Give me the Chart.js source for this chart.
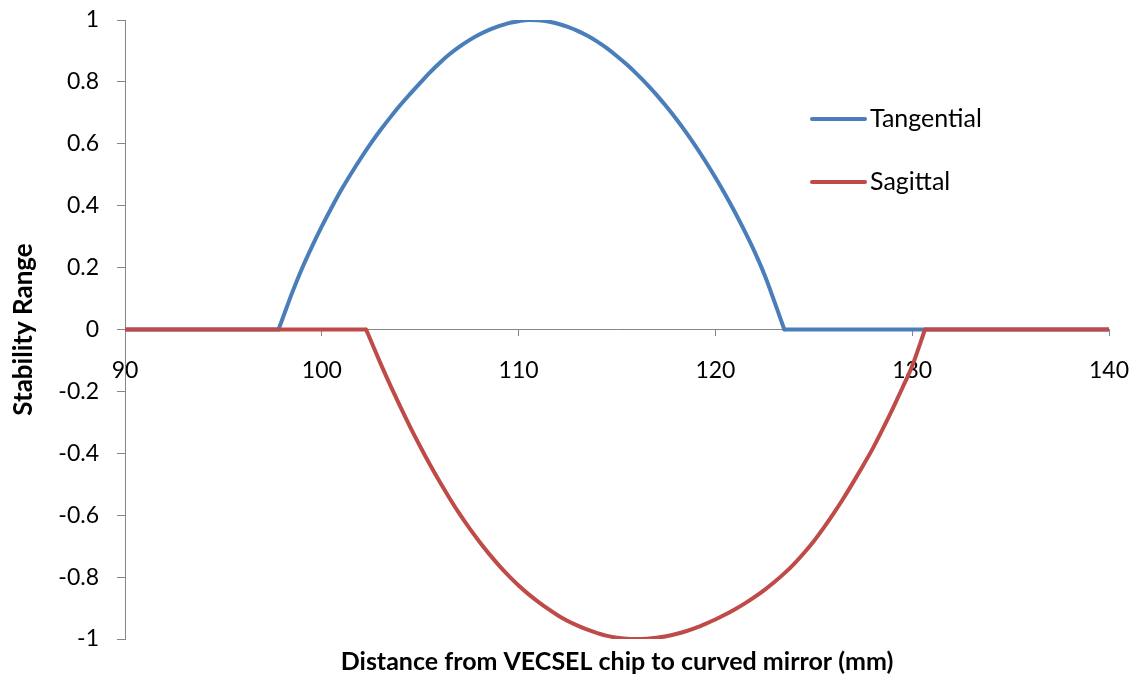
<!DOCTYPE html>
<html>
<head>
<meta charset="utf-8">
<script src="https://cdn.jsdelivr.net/npm/chart.js@4/dist/chart.umd.min.js"></script>
<style>
  html, body { margin: 0; padding: 0; background: #ffffff; }
  #wrap { width: 1143px; height: 677px; position: relative; }
</style>
</head>
<body>
<div id="wrap"><canvas id="chart" width="1143" height="677"></canvas></div>
<script>
// Stability range versus VECSEL chip to curved mirror distance (mm)
const tangentialX = [
  90, 97.8,
  98, 98.5, 99, 99.5, 100, 100.5, 101, 101.5, 102, 102.5,
  103, 103.5, 104, 104.5, 105, 105.5, 106, 106.5, 107, 107.5,
  108, 108.5, 109, 109.5, 110, 110.5, 111, 111.5, 112, 112.5,
  113, 113.5, 114, 114.5, 115, 115.5, 116, 116.5, 117, 117.5,
  118, 118.5, 119, 119.5, 120, 120.5, 121, 121.5, 122, 122.5,
  123,
  123.5, 140
];
const tangentialY = [
  0, 0,
  0.034, 0.120, 0.198, 0.268, 0.333, 0.394, 0.452, 0.505, 0.555, 0.602,
  0.646, 0.687, 0.726, 0.762, 0.797, 0.831, 0.862, 0.890, 0.914, 0.935,
  0.953, 0.968, 0.980, 0.990, 0.996, 1.000, 0.999, 0.995, 0.988, 0.978,
  0.965, 0.949, 0.930, 0.908, 0.883, 0.856, 0.826, 0.794, 0.759, 0.721,
  0.681, 0.638, 0.592, 0.543, 0.491, 0.436, 0.378, 0.316, 0.250, 0.176,
  0.090,
  0, 0
];
const sagittalX = [
  90, 102.25,
  102.5, 103, 103.5, 104, 104.5, 105, 105.5, 106, 106.5, 107,
  107.5, 108, 108.5, 109, 109.5, 110, 110.5, 111, 111.5, 112,
  112.5, 113, 113.5, 114, 114.5, 115, 115.5, 116, 116.5, 117,
  117.5, 118, 118.5, 119, 119.5, 120, 120.5, 121, 121.5, 122,
  122.5, 123, 123.5, 124, 124.5, 125, 125.5, 126, 126.5, 127,
  127.5, 128, 128.5, 129, 129.5, 130,
  130.65, 140
];
const sagittalY = [
  0, 0,
  -0.037, -0.112, -0.183, -0.251, -0.316, -0.378, -0.437, -0.493, -0.546, -0.596,
  -0.642, -0.685, -0.725, -0.762, -0.796, -0.827, -0.855, -0.880, -0.903, -0.924,
  -0.942, -0.957, -0.970, -0.981, -0.990, -0.996, -0.999, -1.000, -0.999, -0.996,
  -0.991, -0.984, -0.975, -0.964, -0.951, -0.937, -0.921, -0.904, -0.885, -0.864,
  -0.841, -0.816, -0.788, -0.757, -0.722, -0.684, -0.641, -0.595, -0.546, -0.494,
  -0.440, -0.384, -0.322, -0.257, -0.189, -0.118,
  0, 0
];

const xTickValues = [90, 100, 110, 120, 130, 140];
const yTickValues = [-1, -0.8, -0.6, -0.4, -0.2, 0, 0.2, 0.4, 0.6, 0.8, 1];

const seriesNames = ['Tangential', 'Sagittal'];
const seriesColors = ['#4A7EBB', '#BE4B48'];
const xTitle = 'Distance from VECSEL chip to curved mirror (mm)';
const yTitle = 'Stability Range';

const axisGray = '#868686';
const fontFamily = 'Lato, "Open Sans", sans-serif';

// Each series is drawn as its flat (zero) stretches plus its curved stable
// region, so the curve keeps sharp corners where it leaves the axis.
function splitSeries(xs, ys) {
  const first = ys.findIndex(v => v !== 0);
  let last = ys.length - 1;
  while (last > 0 && ys[last] === 0) last--;
  const pt = (i) => ({ x: xs[i], y: ys[i] });
  const flat = [];
  for (let i = 0; i <= first - 1; i++) flat.push(pt(i));
  flat.push({ x: (xs[first] + xs[last]) / 2, y: null });
  for (let i = last + 1; i < xs.length; i++) flat.push(pt(i));
  const arc = [];
  for (let i = first - 1; i <= last + 1; i++) arc.push(pt(i));
  return { flat, arc };
}

// Axis titles and the in-plot legend
const decorations = {
  id: 'decorations',
  afterDraw(chart) {
    const ctx = chart.ctx;
    const area = chart.chartArea;
    ctx.save();
    ctx.fillStyle = '#000000';
    ctx.font = 'bold 25px ' + fontFamily;
    ctx.textAlign = 'center';
    ctx.textBaseline = 'middle';
    ctx.fillText(xTitle, (area.left + area.right) / 2, 662);

    ctx.save();
    ctx.translate(24, (area.top + area.bottom) / 2);
    ctx.rotate(-Math.PI / 2);
    ctx.font = 'bold 26px ' + fontFamily;
    ctx.fillText(yTitle, 0, 0);
    ctx.restore();

    const rows = [119, 182];
    ctx.font = '25px ' + fontFamily;
    ctx.textAlign = 'left';
    seriesNames.forEach((name, i) => {
      ctx.strokeStyle = seriesColors[i];
      ctx.lineWidth = 4;
      ctx.lineCap = 'round';
      ctx.beginPath();
      ctx.moveTo(812, rows[i]);
      ctx.lineTo(865, rows[i]);
      ctx.stroke();
      ctx.fillStyle = '#000000';
      ctx.fillText(name, 870, rows[i]);
    });
    ctx.restore();
  }
};

function makeDatasets(name, color, xs, ys) {
  const parts = splitSeries(xs, ys);
  const common = {
    label: name,
    borderColor: color,
    backgroundColor: color,
    borderWidth: 4,
    pointRadius: 0,
    fill: false,
    spanGaps: false
  };
  return [
    Object.assign({}, common, { data: parts.flat, tension: 0, borderCapStyle: 'butt' }),
    Object.assign({}, common, {
      data: parts.arc,
      cubicInterpolationMode: 'monotone',
      borderCapStyle: 'round',
      borderJoinStyle: 'round'
    })
  ];
}

// Sagittal first so it is painted over the tangential trace along zero
const datasets = [].concat(
  makeDatasets(seriesNames[1], seriesColors[1], sagittalX, sagittalY),
  makeDatasets(seriesNames[0], seriesColors[0], tangentialX, tangentialY)
);

new Chart(document.getElementById('chart'), {
  type: 'line',
  data: { datasets: datasets },
  options: {
    responsive: false,
    animation: false,
    layout: { padding: { top: 20, bottom: 38, left: 0, right: 34 } },
    plugins: {
      legend: { display: false },
      tooltip: { enabled: false }
    },
    scales: {
      x: {
        type: 'linear',
        position: { y: 0 },
        min: 90,
        max: 140,
        afterBuildTicks(scale) { scale.ticks = xTickValues.map(v => ({ value: v })); },
        afterFit(scale) {
          scale.height = 0;
          scale.paddingLeft = 0;
          scale.paddingRight = 0;
          scale.paddingTop = 0;
          scale.paddingBottom = 0;
        },
        grid: { drawOnChartArea: false, drawTicks: true, tickLength: 6, color: axisGray },
        border: { color: axisGray, width: 1 },
        ticks: { font: { family: fontFamily, size: 23 }, color: '#000000', padding: 21, maxRotation: 0 }
      },
      y: {
        type: 'linear',
        position: 'left',
        min: -1,
        max: 1,
        afterBuildTicks(scale) { scale.ticks = yTickValues.map(v => ({ value: v })); },
        afterFit(scale) {
          scale.width = 125;
          scale.paddingTop = 0;
          scale.paddingBottom = 0;
        },
        grid: { drawOnChartArea: false, drawTicks: true, tickLength: 8, color: axisGray },
        border: { color: axisGray, width: 1 },
        ticks: {
          font: { family: fontFamily, size: 23 },
          color: '#000000',
          padding: 18,
          callback: (v) => String(Math.round(v * 10) / 10)
        }
      }
    }
  },
  plugins: [decorations]
});
</script>
</body>
</html>
